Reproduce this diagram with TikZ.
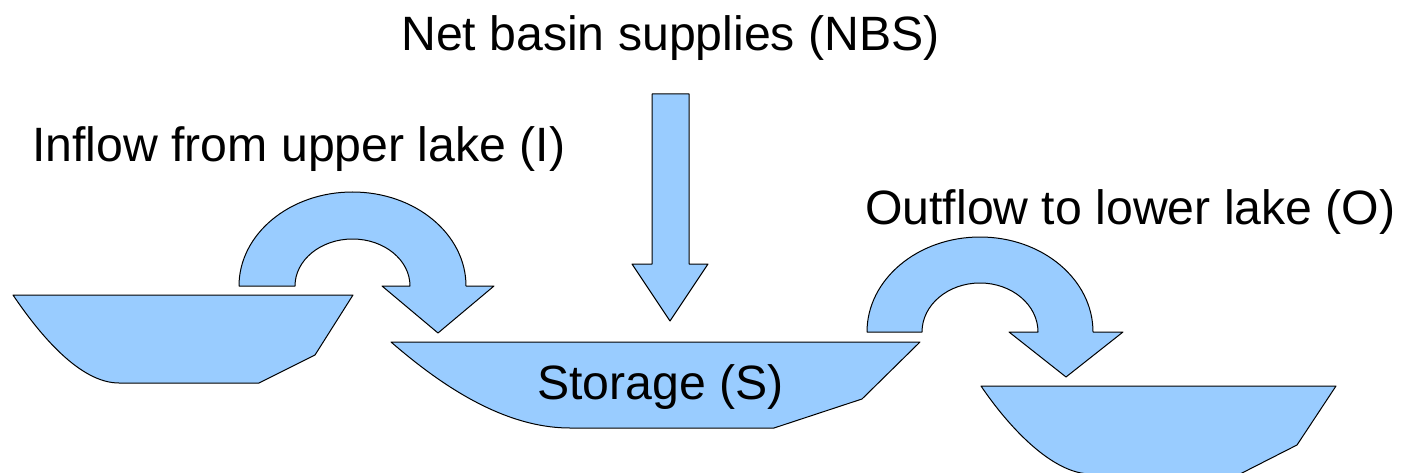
\documentclass[tikz,border=0pt]{standalone}
\usepackage{fontspec}
\setmainfont{Liberation Sans}
\definecolor{lakeblue}{HTML}{99CCFF}
\tikzset{
  water/.style={fill=lakeblue, draw=black, line width=1pt, line join=round},
  lbl/.style={font=\fontsize{48.2}{57}\selectfont, inner sep=0pt, anchor=base west, text=black}
}
\begin{document}
\begin{tikzpicture}[x=1pt, y=-1pt]
  \useasboundingbox (0,0) rectangle (1402,473);
  \clip (0,0) rectangle (1402,473);

  % upper lake
  \draw[water] (13,295) -- (353,295) -- (315,355) -- (259,383) -- (119,383)
    .. controls (80,383) and (40,335) .. (13,295) -- cycle;

  % storage lake
  \draw[water] (391,342) -- (920,342) -- (862,399) -- (774,428) -- (570,428)
    .. controls (500,428) and (435,380) .. (391,342) -- cycle;

  % lower lake
  \draw[water] (981,386) -- (1336,386) -- (1297,445) -- (1240,474) -- (1091,474)
    .. controls (1052,474) and (1008,426) .. (981,386) -- cycle;

  % inflow: curved arrow from the upper lake into storage
  \draw[water] (239,286) arc[start angle=180, end angle=360, x radius=113.5, y radius=94]
    -- (494,286) -- (438,333) -- (382,286) -- (410,286)
    arc[start angle=0, end angle=-180, x radius=57.5, y radius=47]
    -- cycle;

  % outflow: curved arrow from storage into the lower lake
  \draw[water] (867,332) arc[start angle=180, end angle=360, x radius=113, y radius=95]
    -- (1123,332) -- (1066,377) -- (1009,332) -- (1038,332)
    arc[start angle=0, end angle=-180, x radius=58, y radius=49]
    -- cycle;

  % net basin supplies: straight arrow down into storage
  \draw[water] (652,94) -- (689,94) -- (689,264) -- (708,264) -- (670,321)
    -- (632,264) -- (652,264) -- cycle;

  % labels
  \node[lbl] (nbs) at (401,51) {Net basin supplies (NBS)};
  \node[lbl] (inflow) at (32,162) {Inflow from upper lake (I)};
  \node[lbl] (outflow) at (865,224) {Outflow to lower lake (O)};
  \node[lbl] (storage) at (537,399) {Storage (S)};
\end{tikzpicture}
\end{document}
